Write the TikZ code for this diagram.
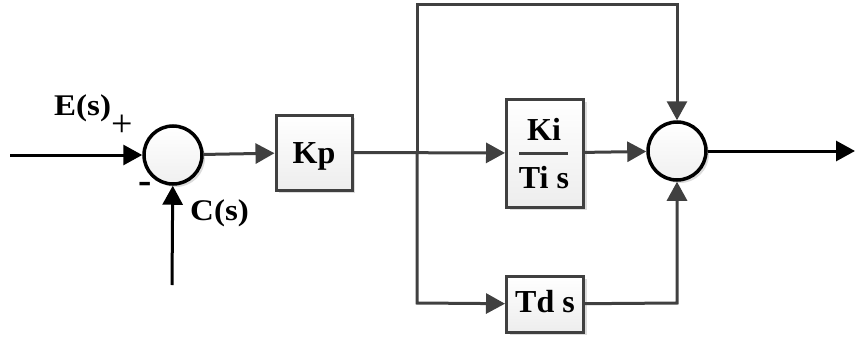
\documentclass[tikz,border=0pt]{standalone}
\usepackage{fontspec}
\setmainfont{Liberation Serif}
\newfontfamily\widefont[FakeStretch=1.1]{Liberation Serif}
\usetikzlibrary{arrows.meta,shadows}
\definecolor{linegray}{HTML}{404040}
\begin{document}
\begin{tikzpicture}[x=1pt,y=-1pt,
  wire/.style={line width=3pt,draw=linegray},
  blackwire/.style={line width=3pt,draw=black},
  arr/.style={-{Triangle[length=19pt,width=20pt]}},
  shadowed/.style={drop shadow={shadow xshift=3pt,shadow yshift=-3pt,fill=gray!60,opacity=.45}},
  blockbox/.style={draw=linegray,line width=3pt,shadowed,top color=white,bottom color=gray!14,
    inner sep=0pt,text depth=0pt,font=\fontsize{32}{38}\selectfont\bfseries},
  sumnode/.style={circle,draw=black,line width=3.5pt,shadowed,top color=white,bottom color=gray!12,
    inner sep=0pt,minimum size=58pt},
  lbl/.style={font=\fontsize{32}{38}\selectfont\bfseries,inner sep=0pt},
  siglbl/.style={font=\widefont\fontsize{30}{34}\selectfont\bfseries,inner sep=0pt,anchor=base west}]
\useasboundingbox (0,0) rectangle (856,340);

% summing junctions and blocks
\node[sumnode] (s1) at (173,155) {};
\node[sumnode] (s2) at (677,151) {};
\node[blockbox,minimum width=76pt,minimum height=75pt,text height=21pt] (kp) at (314,152.5) {Kp};
\node[blockbox,minimum width=77pt,minimum height=108pt] (ki) at (545,153) {};
\node[blockbox,minimum width=77pt,minimum height=56pt,text height=16pt] (td) at (545,304) {Td s};

% integral term: Ki over Ti s
\node[lbl,anchor=base] (kinum) at (544,140) {Ki};
\node[lbl,anchor=base] (kiden) at (544,188) {Ti s};
\coordinate (barl) at (519,153);
\coordinate (barr) at (568,153);
\draw[wire] (barl) -- (barr);

% signal points
\coordinate (in) at (10,155);
\coordinate (fb) at (172,285);
\coordinate (out) at (855,151);
\coordinate (br) at (417,152.5);
\coordinate (tl) at (417,4);
\coordinate (tr) at (677,4);
\coordinate (bl) at (417,303);
\coordinate (brr) at (677,303);

% connectors
\draw[blackwire,arr] (in) -- (s1);
\draw[blackwire,arr] (fb) -- (s1);
\draw[wire,arr] (s1) -- (kp);
\draw[wire,arr] (kp) -- (ki);
\draw[wire,arr] (ki) -- (s2);
\draw[wire,arr] (br) -- (tl) -- (tr) -- (s2);
\draw[wire,arr] (br) -- (bl) -- (td);
\draw[wire,arr] (td) -- (brr) -- (s2);
\draw[blackwire,arr] (s2) -- (out);

% signal labels
\node[siglbl] (es) at (54,115) {E(s)};
\node[lbl,font=\fontsize{38}{40}\selectfont] (plus) at (122,126) {+};
\node[lbl,font=\fontsize{40}{44}\selectfont\bfseries] (minus) at (145,188) {-};
\node[siglbl] (cs) at (190,220) {C(s)};
\end{tikzpicture}
\end{document}
